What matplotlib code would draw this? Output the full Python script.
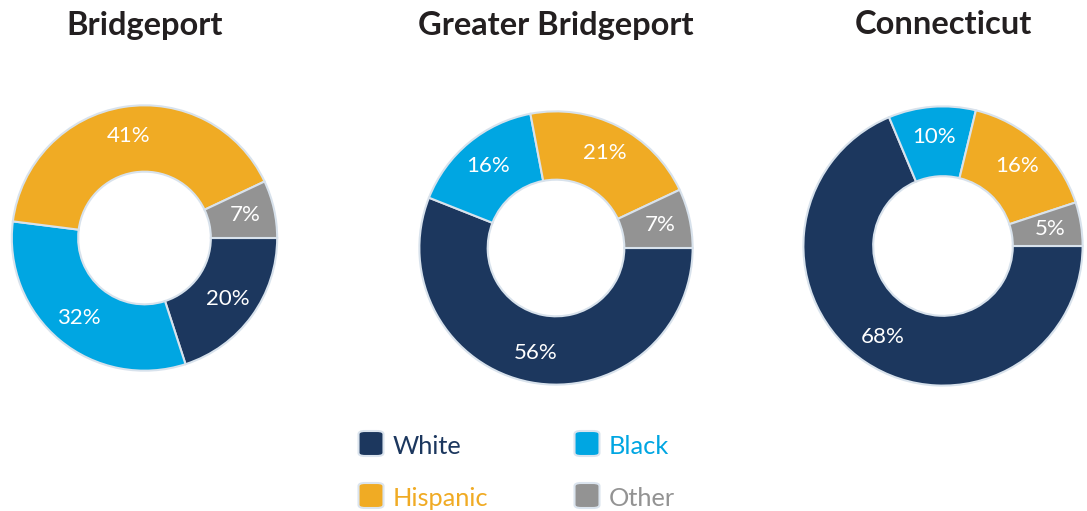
import matplotlib
matplotlib.use("Agg")
import matplotlib.pyplot as plt
from matplotlib.patches import FancyBboxPatch

plt.rcParams['font.family'] = ['Lato', 'DejaVu Sans']

#************************************
''' Data '''
#************************************
categories = ['White', 'Black', 'Hispanic', 'Other']
colors = ['#1c375e', '#00a6e2', '#f0ab24', '#939393']
titles = ['Bridgeport', 'Greater Bridgeport', 'Connecticut']
bridgeport = [20, 32, 41, 7]
greater_bridgeport = [56, 16, 21, 7]
connecticut = [68, 10, 16, 5]
series = [bridgeport, greater_bridgeport, connecticut]

W, H = 1087, 511
# pixel centre (x, y from top) and radius of each donut
layout = [(144.5, 238, 134), (556, 248, 138), (943, 246, 141)]

fig = plt.figure(figsize=(W/100, H/100), dpi=100)

for vals, title, (cx, cy, r) in zip(series, titles, layout):
    ax = fig.add_axes([(cx - r)/W, (H - cy - r)/H, 2*r/W, 2*r/H])
    wedges, texts = ax.pie(vals, colors=colors, startangle=0, counterclock=False,
                           labels=['%d%%' % v for v in vals], labeldistance=0.78,
                           radius=1.0,
                           wedgeprops=dict(width=0.5, edgecolor='#d8e2ec', linewidth=1.5),
                           textprops=dict(color='white', fontsize=16))
    for t in texts:
        t.set_ha('center')
        t.set_va('center')
    ax.set_xlim(-1.01, 1.01)
    ax.set_ylim(-1.01, 1.01)
    ax.set_aspect('equal')
    fig.text(cx/W, 1 - 25/H, title, ha='center', va='center',
             fontsize=23.5, fontweight='bold', color='#231f20')

#************************************
''' Legend '''
#************************************
leg_pos = [(358, 444), (574, 444), (358, 496), (574, 496)]
for name, col, (lx, ly) in zip(categories, colors, leg_pos):
    s = 25
    box = FancyBboxPatch(((lx + 0.5)/W, 1 - (ly + s/2 - 0.5)/H), s/W, s/H,
                         boxstyle='round,pad=0,rounding_size=0.006',
                         transform=fig.transFigure, facecolor=col,
                         edgecolor='#dbe4ee', linewidth=1.5)
    fig.patches.append(box)
    fig.text((lx + 35)/W, 1 - (ly + 2)/H, name, ha='left', va='center',
             fontsize=18.3, color=col)

fig.savefig('out.png', dpi=100)
